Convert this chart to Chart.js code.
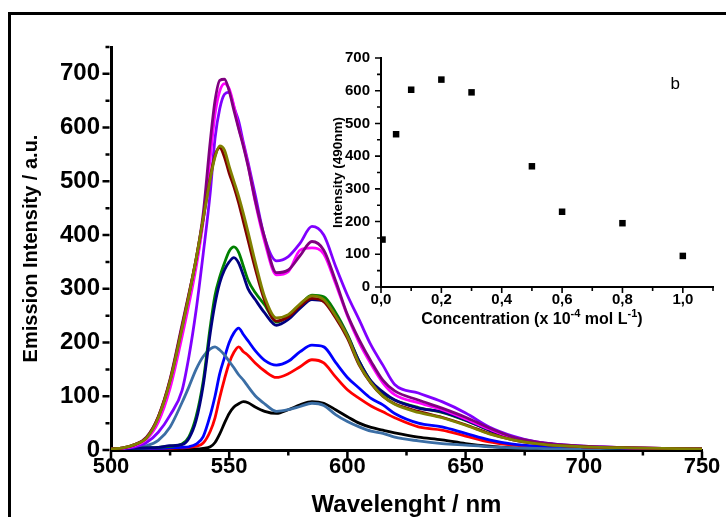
<!DOCTYPE html>
<html>
<head>
<meta charset="utf-8">
<script src="https://cdn.jsdelivr.net/npm/chart.js@4"></script>
<style>
  body { margin: 0; background: #fff; }
  #wrap { position: relative; width: 726px; height: 517px; overflow: hidden; background: #fff; }
  #frame { position: absolute; left: 8px; top: 12px; width: 800px; height: 600px; border: 3px solid #000; }
  #main { position: absolute; left: 0; top: 0; }
  #inset { position: absolute; left: 320px; top: 40px; }
</style>
</head>
<body>
<div id="wrap">
  <div id="frame"></div>
  <canvas id="main" width="726" height="517"></canvas>
  <canvas id="inset" width="406" height="300"></canvas>
</div>
<script>
// ============================================
// Emission spectra + inset (intensity vs concentration)
// ============================================

const FONT = "'Liberation Sans', Arial, sans-serif";

// --- main spectra ---
const wavelengths = [500, 505, 510, 515, 520, 525, 530, 533, 536, 539, 542, 544, 546, 548, 550, 552, 554, 556, 558,
  561, 565, 570, 575, 580, 585, 590, 595, 600, 605, 610, 615, 620, 630, 640, 650, 660, 670, 680, 690, 700, 720, 750];

const blackCurve = [0, 0, 1, 1, 1, 1, 1, 2, 2, 3, 6, 14, 30, 50, 68, 80, 86, 90, 88,
  80, 72, 68, 75, 84, 90, 87, 75, 62, 50, 42, 37, 32, 24, 19, 12, 7, 4, 3, 2, 2, 1, 0];
const steelCurve = [2, 3, 5, 8, 18, 43, 88, 118, 150, 174, 188, 192, 186, 177, 165, 153, 140, 130, 118,
  101, 86, 72, 75, 81, 87, 83, 66, 53, 43, 35, 31, 24, 17, 12, 9, 6, 4, 3, 2, 2, 1, 1];
const redCurve = [1, 1, 2, 2, 3, 3, 4, 5, 7, 13, 35, 60, 98, 132, 162, 182, 192, 183, 176,
  162, 147, 135, 142, 155, 168, 162, 136, 112, 96, 82, 71, 60, 43, 37, 26, 15, 9, 6, 4, 3, 2, 1];
const blueCurve = [1, 1, 2, 3, 3, 4, 5, 6, 11, 25, 65, 100, 142, 172, 200, 218, 227, 215, 203,
  185, 167, 158, 165, 183, 195, 192, 163, 135, 115, 96, 84, 68, 50, 43, 31, 19, 11, 7, 5, 4, 2, 1];
const navyCurve = [1, 2, 3, 4, 5, 8, 10, 22, 55, 120, 218, 272, 311, 335, 350, 358, 348, 325, 300,
  280, 255, 232, 243, 264, 280, 277, 250, 213, 165, 128, 108, 93, 78, 71, 56, 37, 22, 14, 9, 6, 3, 2];
const greenCurve = [1, 2, 3, 4, 5, 7, 11, 25, 62, 128, 230, 288, 322, 348, 370, 378, 368, 342, 316,
  293, 270, 238, 250, 270, 288, 285, 256, 215, 165, 128, 106, 93, 79, 70, 55, 37, 22, 14, 9, 6, 3, 2];
const maroonCurve = [2, 4, 10, 23, 62, 130, 228, 290, 356, 430, 508, 548, 563, 545, 515, 490, 460, 425, 390,
  338, 278, 240, 248, 268, 282, 276, 246, 208, 158, 124, 100, 86, 72, 61, 47, 31, 19, 12, 8, 6, 4, 2];
const oliveCurve = [2, 4, 10, 22, 60, 128, 225, 288, 355, 430, 505, 545, 566, 558, 528, 500, 472, 440, 405,
  350, 285, 246, 252, 272, 287, 280, 250, 212, 160, 125, 100, 85, 70, 60, 46, 30, 19, 12, 8, 6, 4, 2];
const magentaCurve = [2, 3, 8, 20, 52, 115, 210, 272, 340, 425, 545, 625, 668, 682, 672, 640, 600, 568, 530,
  462, 388, 326, 332, 372, 376, 365, 310, 250, 200, 160, 125, 103, 88, 75, 58, 39, 23, 14, 9, 6, 4, 2];
const violetCurve = [1, 3, 6, 14, 33, 65, 110, 175, 260, 365, 480, 580, 635, 662, 666, 638, 612, 572, 535,
  475, 395, 352, 360, 385, 416, 400, 342, 288, 242, 195, 158, 122, 106, 90, 69, 43, 26, 15, 10, 7, 4, 2];
const purpleCurve = [2, 4, 10, 24, 62, 132, 232, 292, 355, 440, 575, 650, 688, 690, 668, 632, 598, 565, 528,
  465, 395, 330, 335, 362, 388, 372, 315, 252, 205, 165, 130, 110, 93, 78, 61, 41, 24, 15, 10, 7, 4, 2];

const mainXTicks = [500, 550, 600, 650, 700, 750];
const mainXMinor = [525, 575, 625, 675, 725];
const mainYTicks = [0, 100, 200, 300, 400, 500, 600, 700];
const mainYMinor = [50, 150, 250, 350, 450, 550, 650, 750];

// --- inset ---
const concentration = [0.005, 0.05, 0.1, 0.2, 0.3, 0.5, 0.6, 0.8, 1.0];
const intensity490 = [145, 467, 603, 634, 595, 369, 230, 195, 95];

const insetXTicks = [0, 0.2, 0.4, 0.6, 0.8, 1.0];
const insetXLabels = ['0,0', '0,2', '0,4', '0,6', '0,8', '1,0'];
const insetXMinor = [0.1, 0.3, 0.5, 0.7, 0.9, 1.1];
const insetYTicks = [0, 100, 200, 300, 400, 500, 600, 700];
const insetYMinor = [50, 150, 250, 350, 450, 550, 650];

// first listed = drawn on top
const spectra = [
  { data: oliveCurve, color: '#808000' },
  { data: maroonCurve, color: '#800000' },
  { data: purpleCurve, color: '#800080' },
  { data: magentaCurve, color: '#FF00FF' },
  { data: violetCurve, color: '#8000FF' },
  { data: navyCurve, color: '#000080' },
  { data: greenCurve, color: '#008000' },
  { data: steelCurve, color: '#3B6EA5' },
  { data: blueCurve, color: '#0000FF' },
  { data: redCurve, color: '#FF0000' },
  { data: blackCurve, color: '#000000' },
];

// small outward tick marks (major + minor), drawn on the library's scales
const tickMarks = {
  id: 'tickMarks',
  afterDraw(chart, args, o) {
    const { ctx, chartArea: a, scales: { x, y } } = chart;
    const off = o.border / 2;
    ctx.save();
    ctx.strokeStyle = '#000';
    ctx.lineWidth = o.width;
    ctx.beginPath();
    const xt = (vals, len) => vals.forEach(v => {
      const p = x.getPixelForValue(v);
      ctx.moveTo(p, a.bottom + off);
      ctx.lineTo(p, a.bottom + off + len);
    });
    const yt = (vals, len) => vals.forEach(v => {
      const p = y.getPixelForValue(v);
      ctx.moveTo(a.left - off, p);
      ctx.lineTo(a.left - off - len, p);
    });
    xt(o.xMajor, o.major); xt(o.xMinor, o.minor);
    yt(o.yMajor, o.major); yt(o.yMinor, o.minor);
    ctx.stroke();
    ctx.restore();
  }
};

// inset x title (with superscripts) and the "b" panel letter
const insetText = {
  id: 'insetText',
  afterDraw(chart) {
    const { ctx, chartArea: a, scales: { x, y } } = chart;
    ctx.save();
    ctx.fillStyle = '#000';
    ctx.textBaseline = 'alphabetic';
    const parts = [['Concentration (x 10', false], ['-4', true], [' mol L', false], ['-1', true], [')', false]];
    const big = `bold 16px ${FONT}`, small = `bold 11px ${FONT}`;
    let total = 0;
    parts.forEach(([t, sup]) => { ctx.font = sup ? small : big; total += ctx.measureText(t).width; });
    let cx = x.getPixelForValue(0.5) - total / 2;
    const base = a.bottom + 37;
    parts.forEach(([t, sup]) => {
      ctx.font = sup ? small : big;
      ctx.fillText(t, cx, sup ? base - 7 : base);
      cx += ctx.measureText(t).width;
    });
    ctx.font = `17px ${FONT}`;
    ctx.textAlign = 'center';
    ctx.textBaseline = 'middle';
    ctx.fillText('b', x.getPixelForValue(0.975), y.getPixelForValue(620));
    ctx.restore();
  }
};

new Chart(document.getElementById('main'), {
  type: 'line',
  data: {
    datasets: spectra.map(s => ({
      data: wavelengths.map((w, i) => ({ x: w, y: s.data[i] })),
      borderColor: s.color,
      borderWidth: 2.8,
      pointRadius: 0,
      fill: false,
      cubicInterpolationMode: 'monotone',
    }))
  },
  options: {
    responsive: false,
    animation: false,
    layout: { padding: { left: 0, right: 24, top: 47, bottom: 0 } },
    plugins: {
      legend: { display: false },
      tooltip: { enabled: false },
      tickMarks: { xMajor: mainXTicks, xMinor: mainXMinor, yMajor: mainYTicks, yMinor: mainYMinor, major: 7, minor: 4, width: 2.5, border: 3 },
    },
    scales: {
      x: {
        type: 'linear', min: 500, max: 750,
        afterBuildTicks: s => { s.ticks = mainXTicks.map(v => ({ value: v })); },
        afterFit: s => { s.height = 67; s.paddingLeft = 0; s.paddingRight = 0; },
        grid: { display: false, drawTicks: false },
        border: { display: true, color: '#000', width: 3 },
        ticks: { padding: 4, color: '#000', font: { family: FONT, size: 22, weight: 'bold' } },
        title: { display: true, text: 'Wavelenght / nm', color: '#000', padding: { top: 0, bottom: 0 },
          font: { family: FONT, size: 24, weight: 'bold', lineHeight: 1 } },
      },
      y: {
        type: 'linear', min: 0, max: 750,
        afterBuildTicks: s => { s.ticks = mainYTicks.map(v => ({ value: v })); },
        afterFit: s => { s.width = 111; s.paddingTop = 0; s.paddingBottom = 0; },
        grid: { display: false, drawTicks: false },
        border: { display: true, color: '#000', width: 3 },
        ticks: { padding: 11, color: '#000', font: { family: FONT, size: 24, weight: 'bold' } },
        title: { display: true, text: 'Emission Intensity / a.u.', color: '#000', padding: { top: 21, bottom: 0 },
          font: { family: FONT, size: 20, weight: 'bold', lineHeight: 1 } },
      }
    }
  },
  plugins: [tickMarks]
});

new Chart(document.getElementById('inset'), {
  type: 'scatter',
  data: {
    datasets: [{
      data: concentration.map((c, i) => ({ x: c, y: intensity490[i] })),
      pointStyle: 'rect',
      pointRadius: 4.6,
      backgroundColor: '#000',
      borderWidth: 0,
      showLine: false,
    }]
  },
  options: {
    responsive: false,
    animation: false,
    layout: { padding: { left: 0, right: 13, top: 18, bottom: 0 } },
    plugins: {
      legend: { display: false },
      tooltip: { enabled: false },
      tickMarks: { xMajor: insetXTicks, xMinor: insetXMinor, yMajor: insetYTicks, yMinor: insetYMinor, major: 5, minor: 3, width: 1.6, border: 2 },
    },
    scales: {
      x: {
        type: 'linear', min: 0, max: 1.1,
        afterBuildTicks: s => { s.ticks = insetXTicks.map(v => ({ value: v })); },
        afterFit: s => { s.height = 53; s.paddingLeft = 0; s.paddingRight = 0; },
        grid: { display: false, drawTicks: false },
        border: { display: true, color: '#000', width: 2 },
        ticks: { padding: 4, color: '#000', font: { family: FONT, size: 15, weight: 'bold' },
          callback: (v, i) => insetXLabels[i] },
      },
      y: {
        type: 'linear', min: 0, max: 700,
        afterBuildTicks: s => { s.ticks = insetYTicks.map(v => ({ value: v })); },
        afterFit: s => { s.width = 61; s.paddingTop = 0; s.paddingBottom = 0; },
        grid: { display: false, drawTicks: false },
        border: { display: true, color: '#000', width: 2 },
        ticks: { padding: 11, color: '#000', font: { family: FONT, size: 15, weight: 'bold' } },
        title: { display: true, text: 'Intensity (490nm)', color: '#000', padding: { top: 12, bottom: 0 },
          font: { family: FONT, size: 13.5, weight: 'bold', lineHeight: 1 } },
      }
    }
  },
  plugins: [tickMarks, insetText]
});
</script>
</body>
</html>
